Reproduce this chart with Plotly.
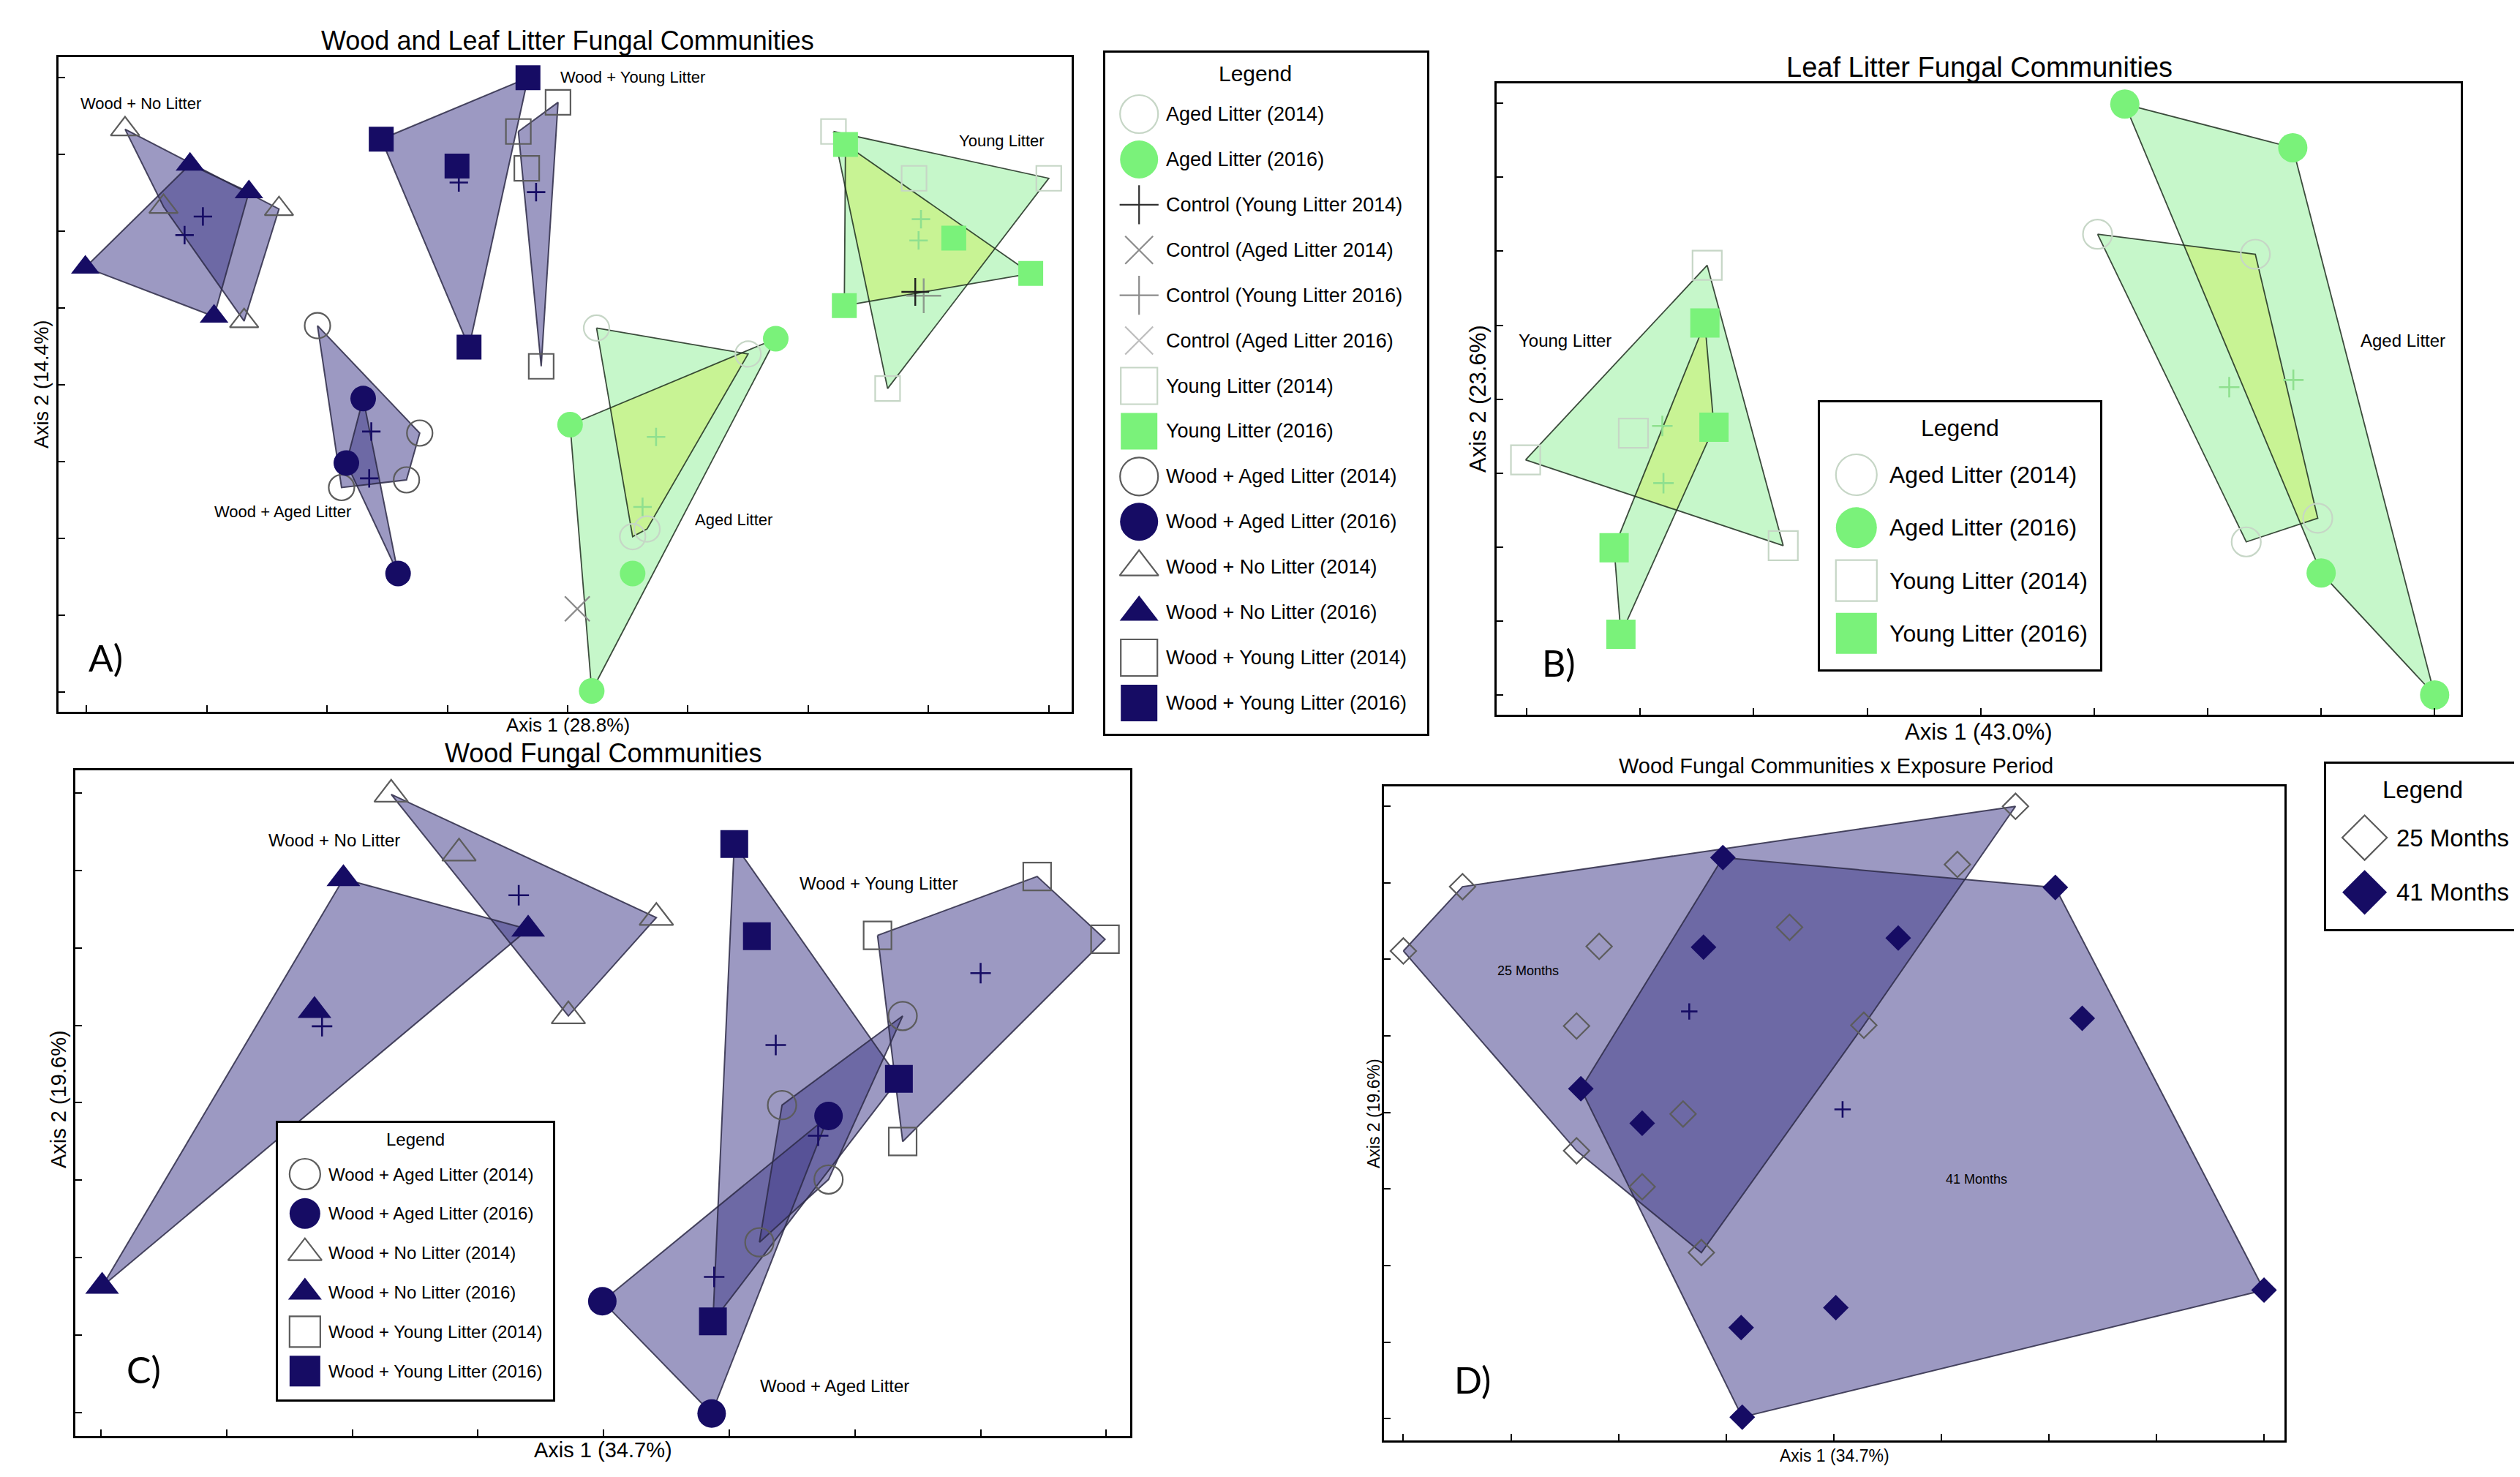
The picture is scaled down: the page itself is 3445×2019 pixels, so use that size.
import numpy as np
import plotly.graph_objects as go

W, H = 3445, 2019

# ===== Panel A : Wood and Leaf Litter Fungal Communities =====
A_WNL14_X = [0.32, 0.64, 1.60, 1.31]
A_WNL14_Y = [7.33, 6.32, 6.29, 4.83]
A_WNL16_X = [-0.01, 0.86, 1.35, 1.06]
A_WNL16_Y = [5.53, 6.87, 6.51, 4.89]
A_WYL14_X = [3.92, 3.59, 3.66, 3.78]
A_WYL14_Y = [7.68, 7.30, 6.82, 4.24]
A_WYL16_X = [3.67, 2.45, 3.08, 3.18]
A_WYL16_Y = [8.00, 7.20, 6.85, 4.49]
A_WAL14_X = [1.92, 2.77, 2.66, 2.12]
A_WAL14_Y = [4.77, 3.37, 2.76, 2.66]
A_WAL16_X = [2.30, 2.16, 2.59]
A_WAL16_Y = [3.82, 2.98, 1.54]
A_AL14_X = [4.24, 5.50, 4.54, 4.66]
A_AL14_Y = [4.74, 4.40, 2.02, 2.12]
A_AL16_X = [5.73, 4.02, 4.54, 4.20]
A_AL16_Y = [4.60, 3.48, 1.54, 0.01]
A_YL14_X = [6.21, 6.88, 8.00, 6.66]
A_YL14_Y = [7.30, 6.69, 6.69, 3.95]
A_YL16_X = [6.31, 7.21, 7.85, 6.30]
A_YL16_Y = [7.13, 5.91, 5.45, 5.03]
A_CTRL_YL14 = [6.89, 5.21]
A_CTRL_YL16 = [6.96, 5.16]
A_CTRL_AL14 = [4.08, 1.08]
A_LABELS = ["Wood + No Litter", "Wood + Young Litter", "Young Litter", "Aged Litter", "Wood + Aged Litter"]
A_LABEL_X = [0.45, 4.54, 7.61, 5.38, 1.63]
A_LABEL_Y = [7.66, 8.01, 7.18, 2.24, 2.35]

# ===== Panel B : Leaf Litter Fungal Communities =====
B_YL14_X = [1.59, 0.94, -0.01, 2.26]
B_YL14_Y = [5.81, 3.54, 3.18, 2.02]
B_YL16_X = [1.57, 1.65, 0.77, 0.83]
B_YL16_Y = [5.03, 3.62, 1.99, 0.82]
B_AL14_X = [5.03, 6.42, 6.97, 6.34]
B_AL14_Y = [6.23, 5.96, 2.39, 2.07]
B_AL16_X = [5.27, 6.75, 7.00, 8.00]
B_AL16_Y = [7.99, 7.40, 1.65, 0.00]
B_LABELS = ["Young Litter", "Aged Litter"]
B_LABEL_X = [0.34, 7.72]
B_LABEL_Y = [4.79, 4.79]

# ===== Panel C : Wood Fungal Communities =====
C_WNL14_X = [2.31, 2.85, 4.42, 3.72]
C_WNL14_Y = [7.98, 7.22, 6.39, 5.12]
C_WNL16_X = [1.93, 3.40, 1.70, 0.01]
C_WNL16_Y = [6.89, 6.24, 5.19, 1.63]
C_WYL14_X = [6.18, 7.45, 7.99, 6.38]
C_WYL14_Y = [6.16, 6.92, 6.11, 3.50]
C_WYL16_X = [5.04, 5.22, 6.35, 4.87]
C_WYL16_Y = [7.34, 6.15, 4.31, 1.18]
C_WAL14_X = [6.38, 5.42, 5.79, 5.24]
C_WAL14_Y = [5.12, 3.97, 3.01, 2.20]
C_WAL16_X = [5.79, 3.99, 4.86]
C_WAL16_Y = [3.83, 1.44, -0.01]
C_LABELS = ["Wood + No Litter", "Wood + Young Litter", "Wood + Aged Litter"]
C_LABEL_X = [1.86, 6.19, 5.84]
C_LABEL_Y = [7.39, 6.83, 0.35]

# ===== Panel D : Wood Fungal Communities x Exposure Period =====
D_M25_X = [5.69, 0.55, 0.00, 5.15, 1.82, 3.59, 1.61, 4.28, 2.60, 1.61, 2.22, 2.77]
D_M25_Y = [8.00, 6.95, 6.11, 7.24, 6.17, 6.42, 5.13, 5.14, 3.98, 3.50, 3.03, 2.17]
D_M41_X = [2.97, 6.06, 2.79, 4.60, 6.31, 1.65, 2.22, 8.00, 4.02, 3.14, 3.15]
D_M41_Y = [7.33, 6.94, 6.16, 6.28, 5.23, 4.31, 3.86, 1.68, 1.45, 1.19, 0.02]
D_LABELS = ["25 Months", "41 Months"]
D_LABEL_X = [1.16, 5.33]
D_LABEL_Y = [5.85, 3.13]

# ===== Legend entries =====
LEG_A = ["Aged Litter (2014)", "Aged Litter (2016)", "Control (Young Litter 2014)",
         "Control (Aged Litter 2014)", "Control (Young Litter 2016)", "Control (Aged Litter 2016)",
         "Young Litter (2014)", "Young Litter (2016)", "Wood + Aged Litter (2014)",
         "Wood + Aged Litter (2016)", "Wood + No Litter (2014)", "Wood + No Litter (2016)",
         "Wood + Young Litter (2014)", "Wood + Young Litter (2016)"]
LEG_B = ["Aged Litter (2014)", "Aged Litter (2016)", "Young Litter (2014)", "Young Litter (2016)"]
LEG_C = ["Wood + Aged Litter (2014)", "Wood + Aged Litter (2016)", "Wood + No Litter (2014)",
         "Wood + No Litter (2016)", "Wood + Young Litter (2014)", "Wood + Young Litter (2016)"]
LEG_D = ["25 Months", "41 Months"]

# ---------------- styles ----------------
NAVY = "#160c64"
GREEN = "#7af27a"
OPEN_WOOD = "#5c5c5c"
OPEN_LEAF = "#c6d6c6"
CENT_LEAF = "#8fe08f"
PURPLE_FILL = "rgba(68,62,140,0.53)"
MINT_FILL = "rgba(118,236,128,0.42)"
OVERLAP_FILL = "rgb(200,243,148)"
WOOD_EDGE = "rgba(45,42,70,0.85)"
LEAF_EDGE = "rgba(30,45,30,0.85)"
FONT = "Liberation Sans"

SYMBOL = {"circle": "circle", "square": "square", "triangle": "triangle-up", "diamond": "diamond"}


def aid(n):
    return "" if n == 1 else str(n)


def hull(xs, ys):
    pts = sorted(set(zip(xs, ys)))
    if len(pts) <= 2:
        return pts

    def cross(o, a, b):
        return (a[0] - o[0]) * (b[1] - o[1]) - (a[1] - o[1]) * (b[0] - o[0])

    lower, upper = [], []
    for p in pts:
        while len(lower) >= 2 and cross(lower[-2], lower[-1], p) <= 0:
            lower.pop()
        lower.append(p)
    for p in reversed(pts):
        while len(upper) >= 2 and cross(upper[-2], upper[-1], p) <= 0:
            upper.pop()
        upper.append(p)
    return lower[:-1] + upper[:-1]


def clip(subject, clipper):
    out = list(subject)
    n = len(clipper)
    for i in range(n):
        if not out:
            break
        a, b = clipper[i], clipper[(i + 1) % n]

        def inside(p):
            return (b[0] - a[0]) * (p[1] - a[1]) - (b[1] - a[1]) * (p[0] - a[0]) >= 0

        def inter(p, q):
            x1, y1 = p
            x2, y2 = q
            x3, y3 = a
            x4, y4 = b
            den = (x1 - x2) * (y3 - y4) - (y1 - y2) * (x3 - x4)
            t = ((x1 - x3) * (y3 - y4) - (y1 - y3) * (x3 - x4)) / den
            return (x1 + t * (x2 - x1), y1 + t * (y2 - y1))

        inp, out = out, []
        s = inp[-1]
        for e in inp:
            if inside(e):
                if not inside(s):
                    out.append(inter(s, e))
                out.append(e)
            elif inside(s):
                out.append(inter(s, e))
            s = e
    return out


def closed(poly):
    return [p[0] for p in poly] + [poly[0][0]], [p[1] for p in poly] + [poly[0][1]]


fig = go.Figure()


def add_poly(n, poly, fill=None, edge=None, width=2.0):
    x, y = closed(poly)
    if fill:
        fig.add_trace(go.Scatter(x=x, y=y, mode="lines", fill="toself", fillcolor=fill,
                                 line=dict(width=0, color=fill), hoverinfo="skip",
                                 showlegend=False, xaxis="x" + aid(n), yaxis="y" + aid(n)))
    if edge:
        fig.add_trace(go.Scatter(x=x, y=y, mode="lines", line=dict(width=width, color=edge),
                                 hoverinfo="skip", showlegend=False,
                                 xaxis="x" + aid(n), yaxis="y" + aid(n)))


# groups: (panel, xs, ys, shape, open?, wood?, size)
GROUPS = [
    (1, A_WNL14_X, A_WNL14_Y, "triangle", True, True, 34),
    (1, A_WNL16_X, A_WNL16_Y, "triangle", False, True, 34),
    (1, A_WYL14_X, A_WYL14_Y, "square", True, True, 34),
    (1, A_WYL16_X, A_WYL16_Y, "square", False, True, 34),
    (1, A_WAL14_X, A_WAL14_Y, "circle", True, True, 35),
    (1, A_WAL16_X, A_WAL16_Y, "circle", False, True, 35),
    (1, A_AL14_X, A_AL14_Y, "circle", True, False, 35),
    (1, A_AL16_X, A_AL16_Y, "circle", False, False, 35),
    (1, A_YL14_X, A_YL14_Y, "square", True, False, 34),
    (1, A_YL16_X, A_YL16_Y, "square", False, False, 34),
    (2, B_YL14_X, B_YL14_Y, "square", True, False, 40),
    (2, B_YL16_X, B_YL16_Y, "square", False, False, 40),
    (2, B_AL14_X, B_AL14_Y, "circle", True, False, 40),
    (2, B_AL16_X, B_AL16_Y, "circle", False, False, 40),
    (3, C_WNL14_X, C_WNL14_Y, "triangle", True, True, 40),
    (3, C_WNL16_X, C_WNL16_Y, "triangle", False, True, 40),
    (3, C_WYL14_X, C_WYL14_Y, "square", True, True, 38),
    (3, C_WYL16_X, C_WYL16_Y, "square", False, True, 38),
    (3, C_WAL14_X, C_WAL14_Y, "circle", True, True, 39),
    (3, C_WAL16_X, C_WAL16_Y, "circle", False, True, 39),
    (4, D_M25_X, D_M25_Y, "diamond", True, True, 27),
    (4, D_M41_X, D_M41_Y, "diamond", False, True, 27),
]

# overlapping leaf-litter hull pairs (index into GROUPS)
LEAF_PAIRS = [(6, 7), (8, 9), (10, 11), (12, 13)]

hulls = [hull(g[1], g[2]) for g in GROUPS]

# 1) fills
for g, h in zip(GROUPS, hulls):
    add_poly(g[0], h, fill=PURPLE_FILL if g[5] else MINT_FILL)
# 2) yellow-green overlap of leaf-litter hulls
for i, j in LEAF_PAIRS:
    inter_poly = clip(hulls[i], hulls[j])
    if len(inter_poly) >= 3:
        add_poly(GROUPS[i][0], inter_poly, fill=OVERLAP_FILL)
# 3) outlines
for g, h in zip(GROUPS, hulls):
    add_poly(g[0], h, edge=WOOD_EDGE if g[5] else LEAF_EDGE, width=2.0 if g[5] else 1.8)
# 4) points + centroids
for g in GROUPS:
    n, xs, ys, shape, is_open, wood, size = g
    sym = SYMBOL[shape] + ("-open" if is_open else "")
    if is_open:
        col = OPEN_WOOD if wood else OPEN_LEAF
        mk = dict(symbol=sym, size=size, color=col, opacity=1, line=dict(width=2.2, color=col))
    else:
        col = NAVY if wood else GREEN
        mk = dict(symbol=sym, size=size, color=col, opacity=1, line=dict(width=0))
    fig.add_trace(go.Scatter(x=xs, y=ys, mode="markers", marker=mk, hoverinfo="skip",
                             showlegend=False, xaxis="x" + aid(n), yaxis="y" + aid(n)))
    ccol = NAVY if wood else CENT_LEAF
    csize = {1: 18, 2: 20, 3: 20, 4: 16}[n]
    fig.add_trace(go.Scatter(x=[float(np.mean(xs))], y=[float(np.mean(ys))], mode="markers",
                             marker=dict(symbol="cross-thin", size=csize, color=ccol, opacity=1,
                                         line=dict(width=2.6, color=ccol)),
                             hoverinfo="skip", showlegend=False,
                             xaxis="x" + aid(n), yaxis="y" + aid(n)))

# controls (panel A)
for pt, sym, col, size in [(A_CTRL_AL14, "x-thin", "#8c8c8c", 34),
                           (A_CTRL_YL16, "cross-thin", "#8c9a8c", 34),
                           (A_CTRL_YL14, "cross-thin", "#202020", 27)]:
    fig.add_trace(go.Scatter(x=[pt[0]], y=[pt[1]], mode="markers",
                             marker=dict(symbol=sym, size=size, color=col, opacity=1,
                                         line=dict(width=2.4, color=col)),
                             hoverinfo="skip", showlegend=False, xaxis="x", yaxis="y"))

# ---------------- axes ----------------
PANELS = {
    1: dict(xd=(72, 1457), yd=(70, 965), xr=(-0.233, 8.19), yr=(-0.262, 8.27)),
    2: dict(xd=(2038, 3356), yd=(106, 969), xr=(-0.265, 8.23), yr=(-0.267, 8.27)),
    3: dict(xd=(95, 1537), yd=(1045, 1955), xr=(-0.203, 8.19), yr=(-0.30, 8.29)),
    4: dict(xd=(1884, 3115), yd=(1067, 1961), xr=(-0.18, 8.19), yr=(-0.284, 8.26)),
}


def fx(px):
    return px / W


def fy(py):
    return 1 - py / H


layout = dict(width=W, height=H, margin=dict(l=0, r=0, t=0, b=0), showlegend=False,
              paper_bgcolor="white", plot_bgcolor="white", font=dict(family=FONT, color="black"),
              hovermode=False)

for n, p in PANELS.items():
    common = dict(showgrid=False, zeroline=False, showline=True, mirror=True, linecolor="black",
                  linewidth=3, ticks="inside", ticklen=9, tickwidth=2, tickcolor="black",
                  tick0=0, dtick=1, showticklabels=False, fixedrange=True)
    layout["xaxis" + aid(n)] = dict(common, domain=[fx(p["xd"][0]), fx(p["xd"][1])],
                                     range=list(p["xr"]), anchor="y" + aid(n))
    layout["yaxis" + aid(n)] = dict(common, domain=[fy(p["yd"][1]), fy(p["yd"][0])],
                                     range=list(p["yr"]), anchor="x" + aid(n))

# legend boxes: (axis n, box px, labels, symbol x, text x, title x, title row, y range, font, title font, symbols)
LEGENDS = [
    (5, (1503, 1943, 64, 995), LEG_A, 0.105, 0.184, 0.466, -0.89, (13.68, -1.357), 27, 30,
     [("circle-open", OPEN_LEAF, 52), ("circle", GREEN, 52), ("cross-thin", "#303030", 38),
      ("x-thin", "#8c8c8c", 38), ("cross-thin", "#8c8c8c", 38), ("x-thin", "#bdbdbd", 38),
      ("square-open", OPEN_LEAF, 50), ("square", GREEN, 50), ("circle-open", OPEN_WOOD, 52),
      ("circle", NAVY, 52), ("triangle-up-open", OPEN_WOOD, 46), ("triangle-up", NAVY, 46),
      ("square-open", OPEN_WOOD, 50), ("square", NAVY, 50)]),
    (6, (2480, 2863, 542, 907), LEG_B, 0.13, 0.243, 0.50, -0.885, (3.68, -1.37), 32, 32,
     [("circle-open", OPEN_LEAF, 56), ("circle", GREEN, 56), ("square-open", OPEN_LEAF, 56),
      ("square", GREEN, 56)]),
    (7, (372, 748, 1527, 1905), LEG_C, 0.098, 0.178, 0.50, -0.89, (5.72, -1.30), 24, 24,
     [("circle-open", OPEN_WOOD, 42), ("circle", NAVY, 42), ("triangle-up-open", OPEN_WOOD, 40),
      ("triangle-up", NAVY, 40), ("square-open", OPEN_WOOD, 42), ("square", NAVY, 42)]),
    (8, (3172, 3435, 1036, 1262), LEG_D, 0.20, 0.357, 0.50, -0.88, (1.67, -1.35), 33, 33,
     [("diamond-open", OPEN_WOOD, 47), ("diamond", NAVY, 47)]),
]

annotations = []
for n, box, labels, sx, tx, tix, tiy, yrng, fs, tfs, syms in LEGENDS:
    layout["xaxis" + aid(n)] = dict(domain=[fx(box[0]), fx(box[1])], range=[0, 1], showgrid=False,
                                     zeroline=False, showline=True, mirror=True, linecolor="black",
                                     linewidth=3, ticks="", showticklabels=False, fixedrange=True,
                                     anchor="y" + aid(n))
    layout["yaxis" + aid(n)] = dict(domain=[fy(box[3]), fy(box[2])], range=list(yrng), showgrid=False,
                                     zeroline=False, showline=True, mirror=True, linecolor="black",
                                     linewidth=3, ticks="", showticklabels=False, fixedrange=True,
                                     anchor="x" + aid(n))
    rows = list(range(len(labels)))
    cols = [s[1] for s in syms]
    lw = [2.2 if ("open" in s[0] or "thin" in s[0]) else 0 for s in syms]
    fig.add_trace(go.Scatter(x=[sx] * len(rows), y=rows, mode="markers",
                             marker=dict(symbol=[s[0] for s in syms], size=[s[2] for s in syms],
                                         color=cols, opacity=1, line=dict(width=lw, color=cols)),
                             hoverinfo="skip", showlegend=False,
                             xaxis="x" + aid(n), yaxis="y" + aid(n)))
    annotations.append(dict(text="Legend", x=tix, y=tiy, xref="x" + aid(n), yref="y" + aid(n),
                            showarrow=False, xanchor="center", yanchor="middle",
                            font=dict(size=tfs, family=FONT)))
    for r, lab in zip(rows, labels):
        annotations.append(dict(text=lab, x=tx, y=r, xref="x" + aid(n), yref="y" + aid(n),
                                showarrow=False, xanchor="left", yanchor="middle",
                                font=dict(size=fs, family=FONT)))

# in-plot group labels
for n, labs, lx, ly, fs in [(1, A_LABELS, A_LABEL_X, A_LABEL_Y, 22), (2, B_LABELS, B_LABEL_X, B_LABEL_Y, 24),
                            (3, C_LABELS, C_LABEL_X, C_LABEL_Y, 24), (4, D_LABELS, D_LABEL_X, D_LABEL_Y, 18)]:
    for t, x, y in zip(labs, lx, ly):
        annotations.append(dict(text=t, x=x, y=y, xref="x" + aid(n), yref="y" + aid(n), showarrow=False,
                                xanchor="center", yanchor="middle", font=dict(size=fs, family=FONT)))

# panel letters
for n, t, x, y in [(1, "A)", 0.16, 0.44), (2, "B)", 0.28, 0.44), (3, "C)", 0.34, 0.56), (4, "D)", 0.64, 0.51)]:
    annotations.append(dict(text=t, x=x, y=y, xref="x" + aid(n), yref="y" + aid(n), showarrow=False,
                            xanchor="center", yanchor="middle", font=dict(size=50, family="Lato")))

# titles and axis titles (pixel positions)
TEXTS = [
    ("Wood and Leaf Litter Fungal Communities", 768, 47, 36, 0),
    ("Leaf Litter Fungal Communities", 2698, 84, 38, 0),
    ("Wood Fungal Communities", 817, 1021, 36, 0),
    ("Wood Fungal Communities x Exposure Period", 2502, 1039, 29, 0),
    ("Axis 1 (28.8%)", 768, 983, 26, 0),
    ("Axis 2 (14.4%)", 49, 517, 27, -90),
    ("Axis 1 (43.0%)", 2697, 992, 31, 0),
    ("Axis 2 (23.6%)", 2013, 537, 31, -90),
    ("Axis 1 (34.7%)", 816, 1974, 29, 0),
    ("Axis 2 (19.6%)", 72, 1495, 29, -90),
    ("Axis 1 (34.7%)", 2500, 1982, 23, 0),
    ("Axis 2 (19.6%)", 1870, 1514, 23, -90),
]
for t, x, y, fs, ang in TEXTS:
    annotations.append(dict(text=t, x=fx(x), y=fy(y), xref="paper", yref="paper", showarrow=False,
                            xanchor="center", yanchor="middle", textangle=ang,
                            font=dict(size=fs, family=FONT)))

layout["annotations"] = annotations
fig.update_layout(**layout)
fig.write_html("out.html")
